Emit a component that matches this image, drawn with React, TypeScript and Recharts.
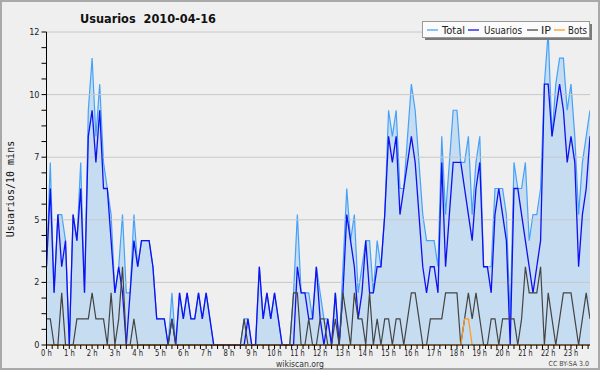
import React from 'react';
import { ComposedChart, Area, Line, XAxis, YAxis, ReferenceLine } from 'recharts';

// 10-minute slots, 144 per day
const totalValues = [
  3, 7, 2, 5, 5, 4, 0, 5, 4, 7, 2, 9,
  11, 8, 10, 7, 6, 5, 2, 3, 5, 2, 2, 5,
  3, 4, 4, 4, 3, 1, 1, 1, 0, 2, 0, 2,
  1, 2, 1, 1, 2, 1, 2, 1, 0, 0, 0, 0,
  0, 0, 0, 0, 1, 1, 0, 0, 3, 1, 2, 1,
  2, 1, 0, 0, 0, 2, 5, 2, 2, 2, 1, 3,
  2, 1, 1, 0, 2, 0, 3, 6, 4, 5, 2, 3,
  4, 4, 2, 4, 3, 5, 9, 8, 9, 6, 6, 8,
  10, 9, 7, 5, 4, 4, 4, 3, 8, 5, 7, 9,
  9, 7, 7, 8, 5, 7, 8, 3, 3, 3, 6, 6,
  6, 5, 1, 7, 6, 6, 7, 4, 5, 5, 6, 10,
  12, 8, 10, 11, 11, 9, 10, 8, 5, 7, 8, 9,
];
const usuariosValues = [
  3, 6, 2, 5, 3, 4, 0, 5, 4, 6, 2, 8,
  9, 7, 9, 6, 6, 4, 2, 3, 2, 0, 2, 4,
  3, 4, 4, 4, 3, 1, 1, 1, 0, 1, 0, 2,
  1, 2, 1, 1, 2, 1, 2, 1, 0, 0, 0, 0,
  0, 0, 0, 0, 0, 1, 0, 0, 3, 1, 2, 1,
  2, 1, 0, 0, 0, 0, 3, 2, 2, 1, 1, 3,
  1, 0, 1, 0, 2, 0, 2, 5, 4, 3, 1, 2,
  4, 2, 2, 3, 3, 5, 8, 7, 8, 5, 6, 7,
  8, 7, 5, 3, 2, 3, 3, 2, 7, 3, 5, 7,
  7, 7, 6, 5, 4, 6, 7, 3, 3, 2, 5, 6,
  5, 4, 0, 6, 6, 5, 4, 3, 2, 3, 4, 10,
  10, 8, 9, 10, 9, 7, 8, 7, 3, 5, 6, 8,
];
const ipValues = [
  1, 1, 0, 0, 2, 0, 0, 0, 1, 1, 1, 1,
  2, 1, 1, 1, 0, 2, 0, 1, 3, 0, 0, 1,
  0, 0, 0, 0, 0, 0, 0, 0, 0, 1, 0, 0,
  0, 0, 0, 0, 0, 0, 0, 0, 0, 0, 0, 0,
  0, 0, 0, 0, 1, 0, 0, 0, 0, 0, 0, 0,
  0, 0, 0, 0, 0, 2, 2, 0, 0, 1, 0, 0,
  1, 1, 0, 0, 1, 0, 2, 1, 0, 2, 1, 1,
  0, 2, 0, 1, 0, 1, 1, 0, 1, 1, 0, 1,
  2, 2, 1, 0, 0, 1, 1, 1, 1, 2, 2, 2,
  2, 0, 1, 2, 1, 2, 1, 0, 0, 1, 1, 0,
  1, 1, 1, 1, 0, 1, 3, 2, 2, 2, 3, 0,
  2, 1, 0, 1, 2, 2, 2, 1, 0, 1, 2, 1,
];
const botsValues = [
  0, 0, 0, 0, 0, 0, 0, 0, 0, 0, 0, 0,
  0, 0, 0, 0, 0, 0, 0, 0, 0, 0, 0, 0,
  0, 0, 0, 0, 0, 0, 0, 0, 0, 0, 0, 0,
  0, 0, 0, 0, 0, 0, 0, 0, 0, 0, 0, 0,
  0, 0, 0, 0, 0, 0, 0, 0, 0, 0, 0, 0,
  0, 0, 0, 0, 0, 0, 0, 0, 0, 0, 0, 0,
  0, 0, 0, 0, 0, 0, 0, 0, 0, 0, 0, 0,
  0, 0, 0, 0, 0, 0, 0, 0, 0, 0, 0, 0,
  0, 0, 0, 0, 0, 0, 0, 0, 0, 0, 0, 0,
  0, 0, 1, 1, 0, 0, 0, 0, 0, 0, 0, 0,
  0, 0, 0, 0, 0, 0, 0, 0, 0, 0, 0, 0,
  0, 0, 0, 0, 0, 0, 0, 0, 0, 0, 0, 0,
];

const seriesNames = ['Total', 'Usuarios', 'IP', 'Bots'];
const seriesColors = ['#45a2f8', '#1010f0', '#444444', '#ff9a1a'];
const hourTicks = Array.from({ length: 96 }, (_, k) => k * 1.5); // every 15 min
const yTicks = Array.from({ length: 21 }, (_, k) => Number((k * 0.6).toFixed(1)));
const yMajor = [2.4, 4.8, 7.2, 9.6, 12];

const data = totalValues.map((v, i) => ({
  slot: i,
  total: v,
  usuarios: usuariosValues[i],
  ip: ipValues[i],
  bots: botsValues[i],
}));

const FONT = "'DejaVu Sans Condensed', 'DejaVu Sans', sans-serif";

const XTick = (props: any) => {
  const { x, y, payload } = props;
  const v = payload.value;
  if (Math.abs(v % 6) > 1e-6) return <g />;
  const label = `${v / 6} h`;
  return (
    <text x={x} y={y} dy={6.5} textAnchor="middle" fontSize={9} fill="#222"
      textLength={label.length * 3.6} lengthAdjust="spacingAndGlyphs"
      style={{ fontFamily: FONT }}>{label}</text>
  );
};

const YTick = (props: any) => {
  const { x, y, payload } = props;
  const v = payload.value;
  const r = v / 2.4;
  if (Math.abs(r - Math.round(r)) > 1e-6) return <g />;
  return (
    <text x={x} y={y} dy={3} textAnchor="end" fontSize={9} fill="#222"
      style={{ fontFamily: FONT }}>{Math.round(v)}</text>
  );
};

const legendLayout = [
  { lx: 427, tx: 442, w: 23 },
  { lx: 468, tx: 484, w: 38 },
  { lx: 527, tx: 541, w: 10 },
  { lx: 554, tx: 568, w: 19 },
];

export default function App() {
  return (
    <div style={{ position: 'relative', width: 600, height: 370, background: '#efeff0', overflow: 'hidden' }}>
      <style>{`body{margin:0}`}</style>
      <ComposedChart width={600} height={370} data={data}
        margin={{ top: 32, right: 10, bottom: 0, left: 0.5 }}>
        {yMajor.map((v) => (
          <ReferenceLine key={v} y={v} stroke="#c8c8c8" strokeWidth={1} ifOverflow="extendDomain" />
        ))}
        <XAxis dataKey="slot" type="number" domain={[0, 143]} ticks={hourTicks} interval={0}
          height={25} tickSize={4} tickMargin={0} axisLine={{ stroke: '#000' }}
          tickLine={{ stroke: '#000' }} tick={<XTick />} allowDataOverflow />
        <YAxis type="number" domain={[0, 12]} ticks={yTicks} interval={0} width={46}
          tickSize={5} tickMargin={2} axisLine={{ stroke: '#000' }} tickLine={{ stroke: '#000' }}
          tick={<YTick />} />
        <Area type="linear" dataKey="total" stroke={seriesColors[0]} strokeWidth={1.2}
          fill="#c5dcf1" fillOpacity={1} dot={false} activeDot={false} isAnimationActive={false} />
        <Line type="linear" dataKey="usuarios" stroke={seriesColors[1]} strokeWidth={1.3}
          dot={false} activeDot={false} isAnimationActive={false} />
        <Line type="linear" dataKey="ip" stroke={seriesColors[2]} strokeWidth={1.2}
          dot={false} activeDot={false} isAnimationActive={false} />
        <Line type="linear" dataKey="bots" stroke={seriesColors[3]} strokeWidth={1.2}
          dot={false} activeDot={false} isAnimationActive={false} />
      </ComposedChart>
      <svg width={600} height={370} style={{ position: 'absolute', left: 0, top: 0, pointerEvents: 'none' }}>
        <rect x={1} y={1} width={598} height={368} fill="none" stroke="#a9a9a9" strokeWidth={2} />
        <text x={80} y={23} fontSize={13} fontWeight="bold" fill="#111" textLength={136}
          lengthAdjust="spacingAndGlyphs" style={{ fontFamily: FONT }}>
          Usuarios{'\u00a0\u00a0'}2010-04-16
        </text>
        <text transform="translate(14,189) rotate(-90)" textAnchor="middle" fontSize={10} fill="#111"
          style={{ fontFamily: "'DejaVu Sans Mono', monospace" }}>Usuarios/10 mins</text>
        <text x={300} y={366.5} textAnchor="middle" fontSize={9} fill="#333"
          textLength={48} lengthAdjust="spacingAndGlyphs"
          style={{ fontFamily: FONT }}>wikiscan.org</text>
        <text x={589} y={366} textAnchor="end" fontSize={7} fill="#444"
          style={{ fontFamily: FONT }}>CC BY-SA 3.0</text>
        <rect x={425} y={24} width={167} height={16} fill="#7a7a7a" />
        <rect x={422.5} y={21.5} width={167} height={16} fill="#fbfbfb" stroke="#9a9a9a" strokeWidth={1} />
        {seriesNames.map((name, k) => (
          <g key={name}>
            <line x1={legendLayout[k].lx} x2={legendLayout[k].lx + 11} y1={30} y2={30}
              stroke={seriesColors[k]} strokeWidth={1.3} />
            <text x={legendLayout[k].tx} y={33.5} fontSize={11} fill="#222"
              textLength={legendLayout[k].w} lengthAdjust="spacingAndGlyphs"
              style={{ fontFamily: FONT }}>{name}</text>
          </g>
        ))}
      </svg>
    </div>
  );
}
